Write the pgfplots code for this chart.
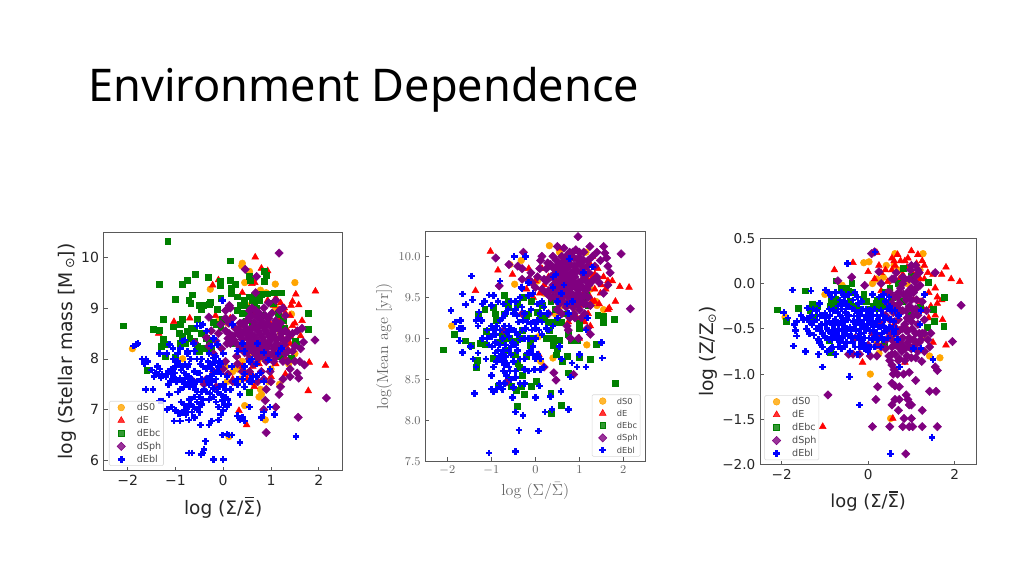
\documentclass[border=0pt]{standalone}
\usepackage{fontspec}
\usepackage{pgfplots}
\pgfplotsset{compat=1.18}
\newfontfamily\dejavu{DejaVu Sans}
\newfontfamily\titlefont{Noto Sans}
\definecolor{cOr}{RGB}{255,165,0}
\definecolor{cGr}{RGB}{0,128,0}
\definecolor{cPu}{RGB}{128,0,128}
\definecolor{cBl}{RGB}{0,0,255}
\definecolor{cRe}{RGB}{255,0,0}
% sigma with a bar, DejaVu has no composed form that shows
\newcommand{\sbar}{\makebox[0pt][l]{\kern0.07em\raisebox{0.86em}{\rule{0.5em}{0.06em}}}Σ}
\pgfplotsset{
  dS0/.style={only marks,mark=*,mark size=2.5pt,mark options={draw=cOr,fill=cOr}},
  dE/.style={only marks,mark=triangle*,mark size=2.9pt,mark options={draw=cRe,fill=cRe}},
  dEbc/.style={only marks,mark=square*,mark size=2.2pt,mark options={draw=cGr,fill=cGr}},
  dSph/.style={only marks,mark=square*,mark size=2.2pt,mark options={rotate=45,draw=cPu,fill=cPu}},
  dEbl/.style={only marks,mark=+,mark size=2.5pt,mark options={draw=cBl,line width=1.9pt}},
  panel/.style={
    scale only axis,anchor=south west,
    xmin=-2.5,xmax=2.5,
    tick align=inside,xtick pos=bottom,ytick pos=left,
    major tick length=3pt,
    axis line style={draw=black!65,line width=0.7pt},
    tick style={draw=black!65,line width=0.5pt},
    clip=true,
    legend cell align=left,
    legend image code/.code={\draw[draw=none] (0,0) -- (19pt,0);\draw[##1] plot coordinates {(8.5pt,0pt)};},
    legend style={font=\dejavu\fontsize{7.2}{8}\selectfont,text=black!70,draw=black!15,rounded corners=1pt,
      fill opacity=0.8,text opacity=1,inner xsep=0.5pt,inner ysep=1.5pt,row sep=3.2pt,
      nodes={inner ysep=0pt,inner xsep=1.2pt,text height=5.5pt,text depth=1pt}},
  },
}
\begin{document}
\begin{tikzpicture}
\useasboundingbox (0,0) rectangle (768pt,432pt);
\fill[white] (0,0) rectangle (768pt,432pt);
\node[anchor=base west,inner sep=0pt,text=black] at (66pt,355.5pt) {\titlefont\fontsize{33.8}{40}\selectfont Environment Dependence};

% left panel: stellar mass
\begin{axis}[panel,at={(77.8pt,79pt)},width=179.2pt,height=178.8pt,
  ymin=5.8,ymax=10.49,
  xtick={-2,-1,0,1,2},xticklabels={−2,−1,0,1,2},
  ytick={6,7,8,9,10},yticklabels={6,7,8,9,10},
  ticklabel style={font=\dejavu\fontsize{10.5}{12}\selectfont,text=black!85},
  xlabel={\dejavu\fontsize{13.9}{15}\selectfont log (Σ/\sbar)},
  ylabel={\dejavu\fontsize{14.1}{15}\selectfont log (Stellar mass [M\,\raisebox{-1.5pt}{\fontsize{9.5}{10}\selectfont ⊙}])},
  label style={text=black!85},
  xlabel style={yshift=-1.5pt},ylabel style={yshift=-3pt},
  legend style={at={(0.022,0.02)},anchor=south west},
]
\addplot[dS0] coordinates {(0.4,9.88)(0.39,9.83)(0.55,9.72)(0.45,9.5)(-0.27,9.37)(1.09,9.47)(1.5,9.5)(0.78,9.35)(0.9,9.3)(0.5,9.05)(0.55,8.95)(1.43,8.88)(1.1,9.0)(-0.1,8.75)(0.1,8.7)(1.5,8.1)(0.4,7.95)(0.45,8.2)(1.37,7.9)(0.75,8.0)(0.05,7.85)(0.2,7.75)(0.08,7.55)(0.3,7.8)(0.48,7.72)(0.65,7.5)(0.78,7.4)(1.18,7.5)(0.95,7.55)(0.8,7.3)(0.75,7.25)(0.45,7.08)(0.88,6.8)(0.12,6.47)(-1.9,8.2)(-0.85,8.0)(1.0,7.8)(0.35,7.6)(0.6,8.1)(1.2,8.5)};
\addplot[dE] coordinates {(0.67,10.0)(0.8,9.78)(0.93,9.73)(0.6,9.48)(0.66,9.5)(-0.22,9.45)(1.93,9.33)(1.52,9.27)(0.4,9.3)(1.45,9.13)(1.58,9.06)(1.42,9.05)(0.93,9.15)(1.1,9.2)(1.2,9.1)(-1.03,8.73)(-0.7,8.8)(-0.16,8.85)(-1.35,8.5)(1.15,8.95)(1.4,8.85)(1.65,8.75)(1.55,8.55)(1.32,8.6)(1.05,8.5)(1.25,8.4)(1.4,8.45)(0.5,8.5)(0.6,8.3)(0.8,8.2)(1.1,8.2)(1.3,8.0)(2.14,7.87)(1.8,7.93)(1.3,7.7)(1.0,7.65)(0.6,7.7)(0.3,8.05)(0.2,7.6)(1.78,7.37)(0.33,6.98)(0.49,6.7)(0.4,7.85)(0.75,7.9)(0.95,8.75)(1.2,8.8)(0.62,8.9)(0.55,9.0)(0.15,8.8)(0.35,8.65)(1.35,8.2)(1.5,8.3)(0.85,7.6)(0.65,7.45)(1.1,7.9)(-0.1,9.55)(0.62,7.85)(0.5,7.6)(1.0,8.05)(1.62,8.45)(1.45,8.65)(1.28,9.0)(1.05,9.05)(1.4,8.3)(1.5,8.7)(1.3,8.9)};
\addplot[dEbc] coordinates {(-1.16,10.32)(0.14,9.93)(-1.33,9.47)(-0.86,9.47)(-0.76,9.55)(-0.59,9.67)(-0.31,9.61)(-0.07,9.52)(-0.06,9.45)(0.14,9.55)(0.25,9.47)(0.16,9.39)(0.16,9.29)(-1.0,9.18)(-0.65,9.26)(-0.05,9.2)(0.3,9.22)(0.55,9.62)(0.56,9.55)(0.86,9.52)(0.9,9.64)(0.86,9.73)(1.21,9.3)(1.06,9.3)(0.93,9.28)(0.8,9.27)(0.65,9.24)(0.55,9.22)(0.44,9.16)(-0.72,9.15)(-0.68,9.1)(-0.5,9.05)(-0.42,9.05)(-0.45,8.98)(-0.27,9.12)(-0.3,9.08)(-0.13,8.98)(0.35,9.05)(0.45,9.05)(0.55,9.0)(0.65,9.1)(0.55,8.9)(0.4,8.9)(0.48,8.75)(-2.1,8.65)(-1.47,8.59)(-1.33,8.57)(-1.26,8.77)(-1.05,8.63)(-0.85,8.78)(-0.9,8.68)(-0.92,8.5)(-0.75,8.55)(-0.68,8.6)(-0.6,8.6)(-0.55,8.78)(-0.2,8.72)(-0.15,8.68)(-0.05,8.62)(-1.25,8.38)(-1.2,8.28)(-1.3,8.25)(-0.85,8.45)(-0.7,8.4)(-0.8,8.3)(-0.9,8.3)(-0.35,8.4)(-0.3,8.3)(-0.4,8.2)(-0.25,8.2)(-0.5,8.15)(-1.22,8.05)(-1.0,8.03)(-1.6,7.78)(0.2,8.3)(1.78,8.58)(1.78,8.9)(1.15,8.88)(1.5,8.35)(1.52,8.28)(1.42,8.02)(1.2,8.05)(0.55,7.35)(1.25,8.75)(1.1,8.6)(0.7,9.0)(0.8,8.85)(0.3,8.95)(0.6,9.15)(0.75,9.15)(0.6,8.7)(-0.02,8.78)(1.28,8.6)(-0.6,8.35)(-0.45,8.5)(-0.55,8.25)(1.05,9.1)};
\addplot[dSph] coordinates {(1.17,10.08)(0.46,9.76)(0.7,9.62)(0.13,9.05)(0.35,8.7)(0.55,8.95)(0.6,8.85)(0.75,8.9)(0.95,9.1)(1.1,9.15)(1.25,9.0)(0.05,8.8)(0.2,8.8)(-0.3,8.82)(-0.25,8.55)(-0.35,8.42)(-0.6,8.32)(0.05,8.55)(0.12,8.7)(0.25,8.6)(0.4,8.7)(0.5,8.75)(0.65,8.72)(0.8,8.75)(0.95,8.8)(1.1,8.75)(1.2,8.7)(0.1,8.4)(0.2,8.45)(0.3,8.5)(0.42,8.52)(0.55,8.55)(0.7,8.6)(0.85,8.62)(1.0,8.62)(1.15,8.6)(1.3,8.55)(1.45,8.5)(0.15,8.3)(0.28,8.3)(0.4,8.38)(0.52,8.4)(0.65,8.45)(0.78,8.48)(0.92,8.5)(1.05,8.47)(1.2,8.42)(1.35,8.4)(0.35,8.2)(0.48,8.25)(0.6,8.3)(0.72,8.32)(0.85,8.35)(0.98,8.35)(1.12,8.3)(1.28,8.28)(0.5,8.12)(0.62,8.15)(0.75,8.2)(0.9,8.2)(1.05,8.2)(1.2,8.18)(1.35,8.15)(1.5,8.25)(0.82,8.05)(0.95,8.05)(1.12,8.05)(-0.03,8.2)(-0.2,8.1)(1.92,8.37)(1.68,8.33)(1.55,8.55)(1.5,7.95)(1.6,7.95)(1.7,7.88)(1.55,7.72)(1.58,7.62)(1.4,7.65)(1.25,7.6)(1.17,7.3)(0.98,7.75)(0.8,7.75)(0.85,7.6)(0.88,7.18)(1.1,7.05)(0.85,7.0)(0.9,6.55)(1.57,6.85)(2.16,7.23)(0.3,7.9)(0.05,7.95)(0.0,7.8)(-0.2,7.75)(-0.35,7.6)(0.62,7.9)(-0.62,7.55)(-0.4,7.5)(0.4,7.75)(0.55,8.0)(0.28,8.05)(0.08,8.3)(0.22,8.38)(0.35,8.45)(0.48,8.48)(0.58,8.48)(0.72,8.55)(0.88,8.56)(1.05,8.55)(1.22,8.5)(1.38,8.48)(0.12,8.5)(0.32,8.58)(0.47,8.62)(0.62,8.62)(0.78,8.68)(0.92,8.7)(1.08,8.68)(0.55,8.82)(0.72,8.82)(0.88,8.85)(1.02,8.9)(0.68,8.38)(0.82,8.42)(0.98,8.42)(1.12,8.38)(1.28,8.35)(0.58,8.2)(0.7,8.25)(0.82,8.28)(0.95,8.28)(1.08,8.25)(1.2,8.25)(0.42,8.28)(0.55,8.32)(0.45,8.12)(0.68,8.08)(0.78,8.12)(0.92,8.12)(1.05,8.12)(1.18,8.12)(1.3,8.1)(0.72,8.0)(0.9,7.95)(1.05,7.95)(1.35,7.95)(1.25,7.95)(1.45,8.15)(0.6,9.0)(0.68,8.95)(0.85,9.0)(0.68,9.3)(1.3,8.85)(1.18,8.95)(1.65,8.6)(1.62,8.2)(-0.3,8.25)(-0.15,8.35)(-0.1,8.5)(-0.05,8.68)(0.15,9.0)(0.05,8.95)(1.0,7.55)(1.2,7.45)(0.9,7.4)(0.72,7.55)(0.1,7.7)(0.2,7.55)(-0.15,7.45)(0.55,7.75)(1.4,7.8)};
\addplot[dEbl] coordinates {(-1.88,8.25)(-1.82,8.28)(-1.78,8.3)(-1.7,8.0)(-1.66,7.95)(-1.65,7.9)(-1.62,8.0)(-1.58,7.95)(-1.5,7.78)(-1.45,7.65)(-1.42,7.72)(-1.38,7.85)(-1.35,7.7)(-1.32,7.8)(-1.3,7.63)(-1.28,7.7)(-1.2,7.65)(-1.15,7.5)(-1.33,8.1)(-1.18,8.1)(-1.05,8.2)(-1.62,7.4)(-1.47,7.4)(-1.13,7.3)(-1.33,7.17)(-1.27,7.17)(-1.08,7.8)(-1.02,7.72)(-1.0,7.85)(-0.95,7.95)(-0.9,7.9)(-0.85,7.85)(-0.8,7.9)(-0.75,7.85)(-0.9,7.62)(-0.85,7.55)(-0.8,7.6)(-0.75,7.5)(-0.7,7.45)(-0.82,7.45)(-0.9,7.4)(-0.95,7.35)(-0.98,7.55)(-0.6,7.75)(-0.55,7.72)(-0.65,7.6)(-0.55,7.55)(-0.45,7.6)(-0.35,7.8)(-0.3,7.85)(-0.25,7.8)(-0.2,7.7)(-0.15,7.6)(-0.1,7.85)(-0.05,7.9)(-0.25,7.55)(-0.3,7.5)(-0.4,7.4)(-0.45,7.35)(-0.35,7.35)(-0.2,7.25)(-0.15,7.15)(-0.05,7.3)(0.0,7.5)(0.05,7.25)(0.1,7.2)(0.12,7.1)(0.03,7.1)(-0.1,7.05)(0.0,6.98)(-0.05,6.9)(-0.88,7.15)(-0.82,7.1)(-0.78,7.0)(-0.85,6.95)(-0.78,6.9)(-0.72,6.8)(-0.62,7.05)(-0.55,7.0)(-0.5,6.95)(-0.45,7.1)(-0.65,6.95)(-0.7,7.2)(-0.6,7.25)(-1.08,7.05)(-1.0,6.98)(-0.95,6.93)(-0.9,6.93)(-1.03,6.78)(-0.9,6.78)(-0.47,6.7)(-0.25,6.78)(-0.1,6.8)(-0.3,6.7)(0.3,6.88)(0.35,6.8)(0.4,6.85)(0.45,6.78)(0.55,7.05)(0.8,6.85)(0.85,6.95)(0.98,7.05)(1.07,6.9)(-0.02,6.5)(0.08,6.52)(0.12,6.5)(0.18,6.5)(0.35,6.35)(1.52,6.47)(-0.37,6.38)(-0.4,6.22)(-0.42,6.15)(-0.46,6.12)(-0.72,6.15)(-0.65,6.15)(-0.2,6.02)(0.0,6.02)(-0.85,8.35)(-0.8,8.37)(-0.9,8.2)(-0.75,8.15)(-0.6,8.15)(-0.55,8.0)(-0.45,8.0)(-0.48,8.65)(-0.42,8.68)(-0.35,8.55)(-0.2,8.4)(-0.3,8.1)(-0.15,8.05)(0.0,8.1)(-0.02,9.15)(0.2,8.68)(0.4,8.3)(0.85,8.12)(0.7,7.9)(0.55,7.95)(0.95,7.98)(1.15,8.1)(0.7,7.65)(0.6,7.55)(0.45,7.7)(0.3,7.6)(0.15,7.4)(0.25,7.55)(-0.08,7.95)(-0.5,7.72)(-0.58,7.4)(-1.15,7.75)(-1.0,7.6)(-0.78,7.7)(0.18,7.85)(-0.25,7.9)(-0.2,8.02)(-1.05,8.0)(-1.1,7.75)(-1.05,7.65)(-1.0,7.95)(-0.88,7.78)(-0.82,7.72)(-0.72,7.65)(-0.68,7.55)(-0.62,7.5)(-0.55,7.35)(-0.5,7.25)(-0.42,7.2)(-0.3,7.2)(-0.28,7.32)(-0.2,7.42)(-0.12,7.35)(-0.08,7.45)(0.05,7.4)(0.08,7.05)(-0.02,7.18)(-0.5,7.05)(-0.55,7.15)(-0.72,7.05)(-0.75,6.95)(-0.68,7.1)(-0.6,6.85)(-0.35,7.6)(-0.28,7.65)(-0.18,7.92)(-0.32,7.95)(-0.42,7.85)(-0.48,7.9)(-0.12,7.75)(-0.05,7.7)(0.08,7.65)(0.3,7.5)(0.35,7.3)(0.55,7.55)(0.62,7.65)(0.78,7.72)(0.85,7.55)(0.45,7.45)(0.4,7.6)(-1.1,7.55)(-1.18,7.0)(-1.12,8.28)(0.72,8.3)(1.22,8.2)(0.45,7.85)(-0.72,7.9)(-0.75,8.1)(-0.62,8.3)(-0.68,8.0)(-0.95,8.1)(-0.55,8.65)(-0.25,8.25)(-0.12,8.28)(0.45,8.15)(0.98,7.8)(0.3,8.15)(0.6,8.0)};
\legend{dS0,dE,dEbc,dSph,dEbl}
\end{axis}

% middle panel: mean age, Computer Modern look
\begin{axis}[panel,at={(319pt,86pt)},width=165pt,height=172.2pt,
  ymin=7.5,ymax=10.3,
  xtick={-2,-1,0,1,2},ytick={7.5,8,8.5,9,9.5,10},
  yticklabels={$7.5$,$8.0$,$8.5$,$9.0$,$9.5$,$10.0$},
  ticklabel style={font=\fontsize{9.5}{11}\selectfont,text=black!60},
  xlabel={\fontsize{12}{14}\selectfont log $(\Sigma/\bar{\Sigma})$},
  ylabel={\fontsize{12}{14}\selectfont log(Mean age [yr])},
  label style={text=black!60},
  xlabel style={yshift=1pt},ylabel style={yshift=-2pt},
  legend image code/.code={\draw[draw=none] (0,0) -- (17pt,0);\draw[#1] plot coordinates {(7.5pt,0pt)};},
  legend style={at={(0.978,0.02)},anchor=south east,font=\dejavu\fontsize{6.2}{7}\selectfont,row sep=2.7pt},
]
\addplot[dS0] coordinates {(0.32,10.13)(-0.58,9.9)(-0.32,9.95)(-0.47,9.66)(-1.9,9.15)(0.07,9.02)(1.17,8.92)(0.4,8.76)(0.12,8.72)(1.4,9.4)(1.55,9.35)(1.38,9.45)(1.15,10.05)(0.55,10.05)(0.78,9.28)(0.9,9.35)(1.05,9.5)(1.25,9.6)(0.6,9.4)(0.45,9.3)(0.2,9.55)(0.05,9.7)};
\addplot[dE] coordinates {(-1.02,10.06)(-0.85,9.83)(-0.52,9.78)(-1.36,9.58)(-0.15,9.85)(0.0,9.7)(0.55,10.1)(1.3,10.0)(1.75,9.7)(1.92,9.63)(2.13,9.62)(1.82,9.45)(1.68,9.37)(1.65,9.35)(1.6,9.6)(1.55,9.75)(1.42,9.85)(1.35,9.6)(1.25,9.5)(1.1,9.55)(1.2,9.3)(1.35,9.78)(1.5,9.65)(0.08,8.8)(1.0,9.0)(1.25,9.15)(0.75,9.2)(0.5,9.55)(0.3,9.75)(0.1,9.55)(-0.2,9.6)(1.15,9.75)(1.25,9.9)(1.65,9.7)(1.0,9.4)(0.85,9.45)(1.2,9.7)(1.3,9.75)(1.28,9.45)(1.48,9.55)(1.35,9.45)(1.45,9.42)(0.2,9.65)(0.35,9.6)(0.15,9.85)(-0.05,9.5)(0.95,9.25)(1.12,9.2)};
\addplot[dEbc] coordinates {(-2.1,8.86)(-1.85,9.05)(-1.6,8.97)(-1.45,8.92)(-1.25,8.94)(-1.15,8.93)(-1.12,9.09)(-1.3,9.3)(-1.15,9.35)(-1.32,8.73)(-1.34,8.65)(-0.96,8.76)(-0.95,9.38)(-0.92,9.3)(-0.9,9.22)(-0.7,9.52)(-0.62,9.45)(-0.62,9.38)(-0.42,9.42)(-0.28,9.5)(-0.8,8.95)(-0.75,9.05)(-0.6,9.0)(-0.5,8.97)(-0.45,8.95)(-0.35,9.0)(-0.3,9.1)(-0.15,9.3)(-0.2,9.27)(-0.12,8.92)(-0.2,8.78)(-0.4,8.7)(-0.37,8.65)(-0.3,8.55)(-0.62,8.5)(-0.55,8.42)(-0.43,8.37)(-0.32,8.42)(-0.1,8.42)(0.02,8.48)(-0.25,8.32)(-0.42,8.17)(0.35,8.33)(0.37,8.09)(0.58,8.18)(0.75,8.58)(0.62,8.72)(0.72,8.78)(0.48,8.8)(0.5,8.88)(0.82,8.97)(0.95,8.97)(1.0,9.18)(1.0,9.12)(0.68,9.3)(0.85,9.28)(1.2,9.4)(1.42,9.28)(1.55,9.27)(1.55,9.2)(1.8,9.23)(1.38,8.93)(1.0,8.77)(1.25,8.74)(1.82,8.45)(0.1,9.25)(0.2,9.25)(0.3,9.2)(0.05,9.32)(0.15,9.4)(0.32,9.1)(0.45,9.2)(0.35,9.45)(0.4,9.5)(0.45,9.35)(0.6,9.2)(0.25,9.0)(0.4,9.0)(1.1,9.45)(1.15,9.52)(-0.1,9.45)(-0.85,8.42)(-0.7,9.3)(-0.72,9.0)(-0.65,8.85)(-0.45,8.8)(-0.1,9.0)(0.55,8.98)(0.4,8.92)(0.75,9.05)};
\addplot[dSph] coordinates {(0.97,10.24)(0.5,10.12)(0.65,10.1)(1.24,10.12)(1.3,10.0)(1.55,10.12)(1.58,10.04)(1.62,9.98)(1.95,10.03)(1.65,9.88)(1.7,9.8)(1.65,9.65)(1.55,9.55)(2.16,9.36)(-0.9,9.98)(-0.27,10.05)(-0.6,9.9)(-0.4,9.88)(-0.3,9.85)(-0.82,9.64)(-0.3,9.72)(0.15,10.0)(0.4,10.0)(0.1,9.85)(0.25,9.85)(0.35,9.75)(0.05,9.75)(-0.1,9.8)(0.25,9.7)(0.4,9.65)(0.55,9.9)(0.7,10.0)(0.85,10.05)(1.0,10.05)(1.1,9.95)(0.6,10.0)(0.5,9.8)(0.65,9.85)(0.8,9.9)(0.95,9.9)(1.1,9.85)(1.22,9.8)(0.6,9.7)(0.75,9.75)(0.9,9.75)(1.05,9.7)(0.5,9.6)(0.65,9.6)(0.8,9.62)(0.95,9.6)(1.1,9.6)(0.45,9.5)(0.6,9.5)(0.75,9.5)(0.9,9.48)(1.05,9.5)(0.7,9.38)(0.85,9.38)(1.0,9.35)(0.55,9.42)(1.2,9.95)(1.35,9.88)(1.4,9.75)(1.22,9.65)(1.2,9.5)(0.9,9.25)(0.72,9.15)(0.75,9.1)(1.18,9.12)(1.25,9.05)(0.8,9.0)(0.98,9.0)(0.42,8.58)(0.47,8.49)(0.87,8.56)(0.2,8.65)(-0.65,8.47)(-0.72,9.1)(-0.3,9.3)(0.3,9.3)(0.55,9.65)(0.15,9.6)(0.45,9.72)(0.42,9.85)(0.55,9.78)(0.7,9.78)(0.82,9.8)(0.95,9.82)(1.05,9.8)(1.15,9.7)(0.72,9.92)(0.88,9.98)(1.02,9.98)(0.78,10.05)(0.92,10.08)(0.62,9.92)(0.48,9.95)(0.55,9.55)(0.68,9.55)(0.82,9.55)(0.98,9.55)(1.12,9.52)(0.65,9.44)(0.8,9.42)(0.95,9.42)(1.1,9.42)(0.6,9.62)(0.72,9.68)(0.85,9.7)(0.98,9.68)(1.08,9.62)(0.5,9.68)(0.4,9.58)(0.3,9.58)(0.2,9.72)(0.28,9.92)(0.12,9.95)(0.0,9.62)(-0.08,9.68)(-0.15,9.72)(1.3,9.7)(1.45,9.68)(1.18,9.88)(1.48,9.95)(1.4,10.05)(1.1,10.05)(1.25,9.4)(0.88,9.3)(0.78,9.25)(1.05,9.25)(0.6,9.3)(0.5,9.35)(1.12,9.3)(0.5,9.45)(0.58,9.85)(0.68,9.95)(0.8,9.97)(0.95,9.97)(0.88,9.88)(0.72,9.85)(0.58,9.72)(0.65,9.65)(0.78,9.6)(0.9,9.65)(1.02,9.62)(0.72,9.58)(0.88,9.52)(0.75,9.44)(0.88,9.44)(1.02,9.45)(0.92,9.83)(1.02,9.9)(1.12,9.75)(0.82,9.72)(0.68,9.72)(0.48,9.88)(0.62,9.78)(0.42,9.78)(0.35,9.9)(0.35,9.5)(0.25,9.55)(1.18,9.6)(1.15,9.42)};
\addplot[dEbl] coordinates {(-1.92,9.34)(-1.45,9.76)(-1.65,9.54)(-1.58,9.41)(-1.43,9.47)(-1.82,9.2)(-1.7,9.22)(-1.72,9.12)(-1.65,9.12)(-1.72,8.97)(-1.65,8.83)(-1.47,8.9)(-1.42,8.75)(-1.35,9.22)(-1.3,9.25)(-1.28,9.32)(-1.2,9.42)(-1.15,9.45)(-1.05,9.53)(-0.95,9.52)(-1.0,9.4)(-1.2,9.0)(-1.3,8.82)(-1.35,8.65)(-1.12,8.75)(-1.38,8.33)(-1.05,8.92)(-1.0,9.02)(-0.98,8.9)(-0.95,9.1)(-0.88,9.15)(-0.8,9.1)(-0.75,9.25)(-0.7,9.15)(-0.65,9.08)(-0.9,8.95)(-0.85,8.85)(-0.82,8.78)(-0.72,8.85)(-0.75,8.72)(-0.7,8.68)(-0.65,8.7)(-0.6,8.65)(-0.58,8.6)(-0.95,8.65)(-1.0,8.55)(-1.0,8.38)(-0.95,8.35)(-0.88,8.38)(-0.78,8.4)(-0.7,8.45)(-0.65,8.55)(-0.5,8.4)(-0.45,8.6)(-0.35,8.45)(-0.25,8.45)(-0.15,8.6)(-0.02,8.62)(0.12,8.62)(0.2,8.65)(-0.52,8.28)(-0.45,8.1)(-0.28,8.06)(0.0,8.28)(0.1,8.42)(0.34,8.29)(0.38,8.13)(0.58,8.35)(0.75,8.13)(0.22,8.1)(-0.37,7.88)(0.07,7.87)(-1.05,7.6)(-0.45,7.62)(-0.6,9.15)(-0.55,9.1)(-0.5,9.1)(-0.45,9.08)(-0.4,9.05)(-0.3,9.1)(-0.22,9.12)(-0.1,9.18)(-0.05,9.2)(0.0,9.12)(0.08,9.1)(-0.35,8.75)(-0.25,8.75)(-0.15,8.82)(-0.1,8.85)(-0.05,8.9)(-0.6,8.85)(-0.55,8.9)(-0.4,8.85)(0.0,8.75)(0.12,8.75)(-0.3,9.38)(-0.25,9.3)(-0.45,9.35)(-0.5,9.3)(-0.55,9.45)(-0.48,10.0)(-0.22,10.0)(-0.3,9.6)(-0.15,9.52)(-0.05,9.55)(0.15,9.45)(0.2,9.38)(0.4,9.75)(0.47,9.78)(0.78,9.97)(0.6,9.55)(0.85,9.45)(0.75,9.3)(0.5,9.25)(0.28,9.3)(0.15,9.2)(1.1,9.8)(1.3,9.87)(1.18,9.25)(1.15,9.1)(1.0,8.8)(1.15,8.65)(0.95,8.65)(0.83,8.7)(0.8,8.53)(1.5,8.95)(1.52,8.76)(0.55,8.9)(0.6,8.75)(0.3,9.1)(0.15,9.05)(0.0,9.0)(-0.8,9.7)(-1.1,9.1)(-0.55,8.8)(-1.1,9.0)(-1.0,9.15)(-0.9,9.05)(-0.82,8.92)(-0.75,9.0)(-0.68,8.92)(-0.6,9.02)(-0.52,8.95)(-0.45,8.92)(-0.35,8.98)(-0.25,9.0)(-0.15,9.0)(-0.08,9.1)(0.0,9.18)(0.05,9.22)(-0.18,9.2)(-0.28,9.22)(-0.38,9.2)(-0.42,9.28)(-0.62,9.35)(-0.68,9.3)(-0.8,9.22)(-1.22,9.22)(-1.3,9.15)(-0.92,8.82)(-0.88,8.72)(-0.72,8.6)(-0.68,8.78)(-0.78,8.8)(-0.5,8.72)(-0.45,8.52)(-0.25,8.62)(-0.18,8.82)(-0.05,8.8)(0.05,8.8)(-0.75,8.38)(-0.82,8.45)(-0.55,8.5)(-0.85,9.45)(-0.72,9.42)(-0.35,9.5)(-0.45,9.45)(-0.1,9.35)(0.05,9.42)(0.12,9.3)(0.25,9.12)(0.4,9.15)(0.5,9.45)(-0.32,9.62)(-0.15,9.68)(0.65,9.65)(0.72,9.42)(0.4,9.62)};
\legend{dS0,dE,dEbc,dSph,dEbl}
\end{axis}

% right panel: metallicity
\begin{axis}[panel,at={(570pt,83.5pt)},width=162.2pt,height=169.8pt,
  ymin=-2,ymax=0.5,
  xtick={-2,0,2},xticklabels={−2,0,2},
  ytick={-2,-1.5,-1,-0.5,0,0.5},yticklabels={−2.0,−1.5,−1.0,−0.5,0.0,0.5},
  ticklabel style={font=\dejavu\fontsize{10.2}{12}\selectfont,text=black!85},
  xlabel={\dejavu\fontsize{13.4}{15}\selectfont log (Σ/\sbar)},
  ylabel={\dejavu\fontsize{14}{15}\selectfont log (Z/Z\raisebox{-2pt}{\fontsize{8.5}{9}\selectfont ⊙})},
  label style={text=black!85},
  xlabel style={yshift=-2pt},ylabel style={yshift=-3pt},
  legend style={at={(0.02,0.02)},anchor=south west},
]
\addplot[dS0] coordinates {(0.62,0.33)(1.27,0.33)(-0.1,0.23)(0.02,0.24)(0.42,0.2)(0.6,0.2)(0.1,0.0)(0.2,0.05)(0.35,0.07)(1.2,0.15)(-1.0,-0.12)(-0.6,-0.02)(-1.92,-0.37)(0.2,-0.65)(0.25,-0.77)(0.05,-1.0)(0.75,-0.65)(1.32,-0.6)(1.42,-0.8)(1.66,-0.82)(0.52,-1.49)(0.7,0.15)(0.9,0.0)(1.0,-0.3)(0.55,-0.6)};
\addplot[dE] coordinates {(1.0,0.36)(0.2,0.34)(0.6,0.25)(0.62,0.2)(0.75,0.25)(0.92,0.28)(1.15,0.32)(1.25,0.25)(-0.35,0.23)(-0.78,0.15)(0.25,0.2)(0.55,0.15)(1.3,0.2)(1.8,0.18)(1.7,0.1)(1.92,0.05)(2.12,0.02)(1.5,0.1)(1.3,0.05)(0.0,0.13)(0.15,0.05)(-0.4,-0.1)(0.5,-0.05)(0.8,0.1)(1.1,-0.05)(1.4,-0.1)(1.7,-0.18)(1.6,-0.22)(1.55,-0.35)(1.4,-0.38)(1.72,-0.4)(1.5,-0.65)(1.8,-0.68)(-1.05,-1.58)(0.57,-1.49)(-0.13,-0.87)(0.85,-0.87)(0.65,-0.3)(0.6,-0.45)(0.9,-0.5)(1.2,-0.2)(1.05,0.1)(0.9,0.18)(0.45,0.02)(0.3,-0.08)(0.55,0.28)(0.68,0.32)(0.85,0.25)(1.12,0.22)(0.4,0.15)(0.72,0.05)(1.2,0.05)(1.38,0.12)(1.55,-0.05)(1.05,-0.18)(1.3,-0.3)(1.45,-0.25)(1.6,-0.15)(0.3,0.12)};
\addplot[dEbc] coordinates {(-2.1,-0.29)(-1.9,-0.42)(-1.45,-0.08)(-1.62,-0.27)(-1.35,-0.3)(-1.3,-0.23)(-1.25,-0.37)(-1.18,-0.25)(-0.85,-0.22)(-0.8,-0.2)(-0.78,-0.27)(-0.88,-0.25)(-0.75,-0.17)(-0.75,0.03)(-0.62,-0.05)(-0.5,-0.05)(-0.4,-0.1)(-0.42,-0.2)(-0.38,0.0)(-0.35,-0.25)(-0.05,-0.2)(0.05,-0.28)(0.12,-0.25)(0.25,-0.27)(0.32,-0.2)(0.38,-0.25)(0.4,-0.1)(0.5,-0.05)(0.55,-0.15)(0.7,0.0)(0.82,0.17)(1.0,0.08)(1.4,0.01)(1.77,-0.15)(1.2,-0.26)(1.5,-0.28)(1.52,-0.42)(1.75,-0.47)(1.37,-0.48)(-0.9,-0.63)(-0.88,-0.76)(0.38,-0.66)(0.62,-0.3)(0.8,-0.2)(-0.2,-0.28)(0.2,-0.18)(-0.1,-0.12)(0.95,-0.35)(-0.85,-0.17)(-0.82,-0.25)(-0.75,-0.25)(0.2,-0.27)(0.28,-0.22)(0.18,-0.22)(-0.45,-0.08)};
\addplot[dSph] coordinates {(0.08,0.33)(0.15,0.35)(1.1,0.2)(1.15,0.15)(0.25,0.13)(0.6,0.05)(0.8,0.07)(1.55,0.12)(-0.7,0.03)(-0.38,0.07)(-0.08,-0.02)(2.15,-0.24)(1.95,-0.64)(0.45,-0.1)(0.6,-0.15)(0.75,-0.05)(0.9,-0.1)(1.05,-0.1)(0.65,-0.25)(0.8,-0.3)(0.95,-0.25)(1.1,-0.28)(0.7,-0.4)(0.85,-0.45)(1.0,-0.42)(1.15,-0.45)(0.5,-0.55)(0.65,-0.55)(0.8,-0.6)(0.95,-0.6)(1.1,-0.55)(1.25,-0.55)(0.4,-0.72)(0.55,-0.7)(0.7,-0.7)(0.85,-0.72)(1.0,-0.72)(1.15,-0.75)(1.3,-0.75)(1.42,-0.7)(0.1,-0.55)(0.25,-0.6)(0.0,-0.68)(0.05,-0.8)(-0.45,-0.78)(-0.35,-0.78)(0.2,-0.8)(0.5,-0.85)(0.55,-0.9)(0.72,-0.83)(0.9,-0.8)(1.24,-0.86)(0.58,-1.0)(0.68,-1.0)(0.82,-1.0)(0.95,-0.98)(1.1,-1.07)(1.55,-0.92)(1.6,-0.96)(0.55,-1.1)(0.62,-1.13)(0.72,-1.14)(0.22,-1.14)(-0.93,-1.23)(0.18,-1.28)(0.62,-1.28)(0.72,-1.28)(0.88,-1.23)(0.92,-1.28)(0.55,-1.34)(0.95,-1.34)(1.0,-1.34)(0.7,-1.4)(1.25,-1.4)(1.42,-1.19)(1.57,-1.19)(0.83,-1.49)(1.0,-1.49)(0.1,-1.58)(0.5,-1.58)(0.8,-1.58)(0.95,-1.58)(1.03,-1.58)(1.25,-1.58)(1.6,-1.58)(0.87,-1.88)(0.4,-0.35)(0.5,-0.4)(0.3,-0.45)(1.3,-0.4)(1.35,-0.3)(1.45,-0.55)(0.5,-0.1)(0.55,0.05)(0.65,0.12)(0.7,-0.1)(0.85,0.05)(0.95,0.05)(1.0,-0.05)(1.08,0.02)(1.2,-0.02)(1.25,-0.2)(1.3,-0.55)(1.15,-0.35)(1.05,-0.35)(0.9,-0.38)(0.78,-0.5)(0.62,-0.42)(0.55,-0.62)(0.75,-0.62)(0.92,-0.52)(1.05,-0.62)(1.18,-0.65)(1.0,-0.82)(0.62,-0.78)(0.48,-0.8)(0.3,-0.7)(0.42,-0.62)(0.78,-0.75)(0.95,-0.7)(1.08,-0.68)(0.55,-0.78)(0.2,-0.68)(1.38,-0.62)(1.22,-0.62)(0.88,-0.18)(0.72,-0.22)(1.0,-0.18)(0.58,-0.32)(1.12,-0.18)(1.18,0.12)(0.98,0.15)(0.3,0.0)(-0.3,-0.6)(-0.2,-0.78)(0.6,-0.95)(0.45,-0.22)(0.55,-0.22)(0.68,-0.15)(0.82,-0.12)(0.95,-0.12)(1.12,-0.05)(0.75,-0.3)(0.88,-0.3)(1.02,-0.28)(0.65,-0.5)(0.72,-0.52)(0.88,-0.52)(1.02,-0.5)(1.18,-0.55)(0.62,-0.68)(0.78,-0.68)(0.92,-0.65)(0.7,-0.85)(0.85,-0.85)(1.1,-0.82)(0.8,0.0)(1.0,0.2)(1.1,0.08)};
\addplot[dEbl] coordinates {(-1.75,-0.07)(-1.32,-0.08)(-0.98,-0.07)(-0.92,-0.1)(-0.62,-0.1)(-0.48,0.22)(0.16,0.35)(-1.95,-0.32)(-1.85,-0.38)(-1.7,-0.45)(-1.65,-0.42)(-1.68,-0.52)(-1.65,-0.58)(-1.73,-0.69)(-1.45,-0.75)(-1.25,-0.42)(-1.4,-0.27)(-1.3,-0.35)(-1.2,-0.3)(-1.12,-0.22)(-1.35,-0.42)(-1.42,-0.5)(-1.35,-0.55)(-1.3,-0.45)(-1.25,-0.57)(-1.15,-0.62)(-1.12,-0.65)(-1.05,-0.7)(-1.15,-0.78)(-1.05,-0.92)(-1.0,-0.45)(-1.05,-0.55)(-0.95,-0.5)(-0.95,-0.6)(-0.9,-0.42)(-0.85,-0.55)(-0.82,-0.45)(-0.78,-0.5)(-0.75,-0.4)(-0.72,-0.55)(-0.68,-0.45)(-0.65,-0.35)(-0.6,-0.5)(-0.58,-0.6)(-0.55,-0.42)(-0.5,-0.5)(-0.45,-0.35)(-0.42,-0.48)(-0.38,-0.58)(-0.35,-0.42)(-0.3,-0.3)(-0.28,-0.52)(-0.25,-0.4)(-0.2,-0.35)(-0.18,-0.5)(-0.15,-0.62)(-0.1,-0.4)(-0.05,-0.52)(0.0,-0.38)(0.02,-0.6)(0.08,-0.45)(0.12,-0.52)(0.18,-0.42)(0.22,-0.62)(0.28,-0.48)(0.32,-0.55)(0.38,-0.4)(0.42,-0.52)(0.5,-0.48)(0.55,-0.3)(0.6,-0.42)(0.7,-0.35)(0.68,-0.62)(0.72,-0.92)(-0.82,-0.7)(-0.75,-0.78)(-0.62,-0.72)(-0.42,-0.75)(-0.3,-0.7)(-0.2,-0.7)(-0.1,-0.72)(0.0,-0.75)(-0.65,-0.65)(-0.5,-0.65)(-0.35,-0.65)(-0.9,-0.28)(-0.8,-0.3)(-0.7,-0.25)(-0.6,-0.22)(-0.5,-0.25)(-0.55,-0.15)(-0.45,-0.12)(-0.35,-0.18)(-0.25,-0.15)(-0.15,-0.2)(-0.05,-0.28)(0.05,-0.3)(0.15,-0.28)(0.25,-0.15)(0.3,-0.3)(0.4,-0.2)(0.48,-0.15)(-1.0,-0.33)(-0.9,-0.62)(-0.72,-0.62)(-0.55,-0.55)(-0.4,-0.6)(-0.15,-0.45)(0.1,-0.62)(0.2,-0.55)(0.35,-0.62)(1.05,-0.72)(1.22,-0.72)(1.3,-0.12)(1.22,-0.3)(1.2,-0.45)(1.5,-0.84)(-0.43,-1.03)(-0.2,-1.34)(1.48,-1.7)(0.52,-1.88)(0.0,-0.5)(-0.25,-0.6)(-0.8,-0.6)(-0.62,-0.42)(-1.12,-0.5)(-0.15,-0.3)(0.6,-0.55)(-0.98,-0.38)(-0.92,-0.52)(-0.88,-0.35)(-0.84,-0.62)(-0.8,-0.42)(-0.76,-0.58)(-0.7,-0.32)(-0.68,-0.52)(-0.64,-0.6)(-0.62,-0.28)(-0.58,-0.38)(-0.55,-0.48)(-0.52,-0.32)(-0.48,-0.4)(-0.46,-0.58)(-0.44,-0.25)(-0.4,-0.52)(-0.36,-0.28)(-0.33,-0.36)(-0.32,-0.5)(-0.28,-0.45)(-0.24,-0.32)(-0.22,-0.58)(-0.2,-0.42)(-0.16,-0.55)(-0.12,-0.28)(-0.1,-0.48)(-0.08,-0.6)(-0.04,-0.35)(-0.02,-0.45)(0.02,-0.3)(0.04,-0.52)(0.06,-0.4)(0.1,-0.35)(0.14,-0.45)(0.16,-0.58)(0.2,-0.35)(0.24,-0.48)(0.26,-0.4)(0.3,-0.6)(0.34,-0.35)(0.36,-0.47)(0.44,-0.38)(0.46,-0.6)(0.52,-0.4)(0.56,-0.5)(0.62,-0.3)(0.64,-0.5)(0.5,-0.25)(-1.0,-0.6)(-1.08,-0.45)(-0.85,-0.72)(-0.7,-0.7)(-0.55,-0.7)(-0.25,-0.78)(-0.15,-0.65)(-0.05,-0.68)(0.05,-0.7)(0.15,-0.7)(0.3,-0.7)(-0.95,-0.75)(-0.55,-0.2)(-0.65,-0.18)(-0.85,-0.15)(-0.75,-0.1)(-0.3,-0.1)(-0.22,-0.22)(0.1,-0.12)(0.35,-0.12)(0.45,-0.28)(-1.4,-0.38)(-1.5,-0.4)(-1.28,-0.28)(-1.18,-0.4)(-1.2,-0.5)(-1.1,-0.35)(-1.55,-0.35)};
\legend{dS0,dE,dEbc,dSph,dEbl}
\end{axis}
\end{tikzpicture}
\end{document}
